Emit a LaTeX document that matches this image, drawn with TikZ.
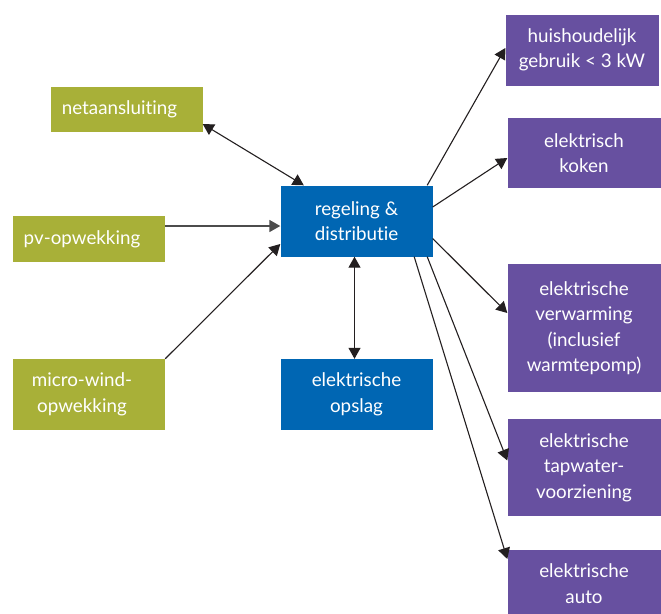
\documentclass[tikz,border=0pt]{standalone}
\usepackage{fontspec}
\setmainfont{Lato}[Ligatures=NoCommon]
\usetikzlibrary{arrows.meta,calc}
\definecolor{gcol}{RGB}{168,176,56}
\definecolor{bcol}{RGB}{0,102,179}
\definecolor{pcol}{RGB}{103,80,160}
\definecolor{lcol}{RGB}{35,31,32}
\begin{document}
\begin{tikzpicture}[x=1pt,y=-1pt,
  box/.style={rectangle,inner sep=0pt,text=white,align=center,font=\fontsize{18.8}{25.5}\selectfont},
  gbox/.style={box,fill=gcol,minimum width=152pt},
  bbox/.style={box,fill=bcol,minimum width=152pt},
  pbox/.style={box,fill=pcol,minimum width=153pt},
  gtext/.style={text=white,inner sep=0pt,align=center,font=\fontsize{18.8}{25.5}\selectfont},
  conn/.style={draw=lcol,line width=1.1pt},
  tip/.style={-{Triangle[length=11pt,width=12pt]}},
  tips/.style={{Triangle[length=11pt,width=12pt]}-{Triangle[length=11pt,width=12pt]}}]
\useasboundingbox (0,0) rectangle (661,613);
% left (green)
\node[gbox,minimum height=45pt,label={[gtext,xshift=-7pt]center:netaansluiting}] (net) at (126.5,109) {};
\node[gbox,minimum height=46pt,label={[gtext,xshift=-7pt]center:pv-opwekking}] (pv) at (89,239) {};
\node[gbox,minimum height=71pt,label={[gtext,xshift=-7pt]center:micro-wind-\\opwekking}] (wind) at (89,394.5) {};
% centre (blue)
\node[bbox,minimum height=71pt] (reg) at (356.5,221) {regeling \&\\distributie};
\node[bbox,minimum height=71pt] (ops) at (356.5,394.5) {elektrische\\opslag};
% right (purple)
\node[pbox,minimum height=71pt] (hh) at (582,50) {huishoudelijk\\gebruik < 3 kW};
\node[pbox,minimum height=70pt] (kok) at (584,153) {elektrisch\\koken};
\node[pbox,minimum height=128pt] (verw) at (584,328) {elektrische\\verwarming\\(inclusief\\warmtepomp)};
\node[pbox,minimum height=97pt] (tap) at (584,467.5) {elektrische\\tapwater-\\voorziening};
\node[pbox,minimum height=67pt] (auto) at (584,583.5) {elektrische\\auto};
% connectors
\draw[conn,tips] ($(net.east)+(0,15)$) -- ($(reg.north west)+(23.5,0)$);
\draw[conn,tip,draw=black!70,line width=1.6pt] ($(pv.east)+(0,-13)$) -- ($(reg.west)+(0,5)$);
\draw[conn,tip] (wind.north east) -- ($(reg.west)+(0,23)$);
\draw[conn,tips] ($(reg.south)+(-2,0)$) -- ($(ops.north)+(-2,0)$);
\draw[conn,tip] ($(reg.north east)+(-5.5,0)$) -- ($(hh.west)+(0,-2)$);
\draw[conn,tip] ($(reg.east)+(0,-14)$) -- ($(kok.west)+(0,5)$);
\draw[conn,tip] ($(reg.east)+(0,17.5)$) -- ($(verw.west)+(0,-15)$);
\draw[conn,tip] ($(reg.south east)+(-5.5,0)$) -- ($(tap.west)+(0,-7)$);
\draw[conn,tip] ($(reg.south east)+(-18.5,0)$) -- ($(auto.west)+(0,-24.5)$);
\end{tikzpicture}
\end{document}
